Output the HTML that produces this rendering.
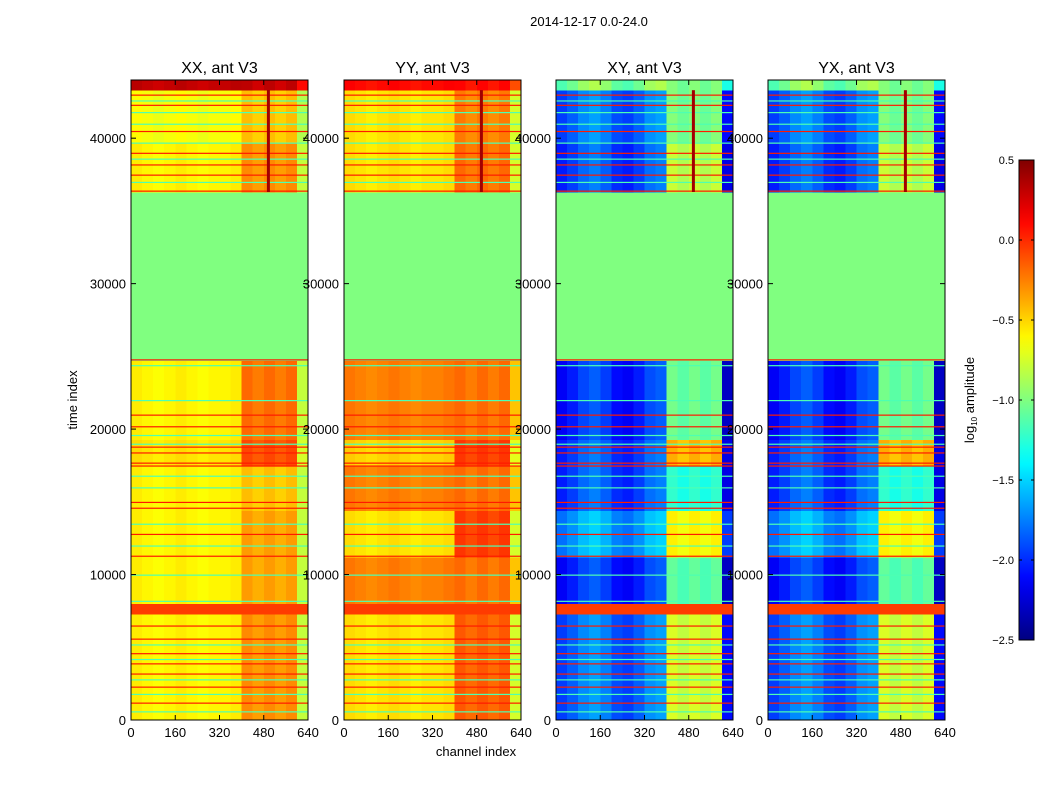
<!DOCTYPE html>
<html><head><meta charset="utf-8">
<style>
html,body{margin:0;padding:0;background:#fff;}
svg text{font-family:"Liberation Sans","DejaVu Sans",sans-serif;}
</style></head>
<body>
<svg id="fig" width="1050" height="800" viewBox="0 0 1050 800" xmlns="http://www.w3.org/2000/svg">
<rect width="1050" height="800" fill="#fff"/>
<text x="589" y="26" font-size="13" text-anchor="middle">2014-12-17 0.0-24.0</text>
<text x="476" y="756" font-size="13" text-anchor="middle">channel index</text>
<text x="0" y="0" font-size="13" text-anchor="middle" transform="translate(77,400) rotate(-90)">time index</text>
<g id="panels"></g>
<g id="cbar"></g>
</svg>
<script>
// ---- data ----
const panelTitles = ["XX, ant V3","YY, ant V3","XY, ant V3","YX, ant V3"];
const bandStart = [0,7300,8000,11200,14400,17500,19300,24700,36300,39700,43300];
const bandEnd   = [7300,8000,11200,14400,17500,19300,24700,36300,39700,43300,44000];
const baseXX = [-0.6,-0.05,-0.6,-0.6,-0.6,-0.55,-0.6,-1.0,-0.6,-0.65,0.3];
const featXX = [-0.3,-0.05,-0.35,-0.35,-0.45,-0.1,-0.2,-1.0,-0.3,-0.45,0.3];
const baseYY = [-0.55,-0.05,-0.25,-0.55,-0.25,-0.5,-0.25,-1.0,-0.55,-0.55,0.1];
const featYY = [-0.15,-0.05,-0.2,-0.05,-0.2,-0.05,-0.2,-1.0,-0.2,-0.25,0.1];
const baseXY = [-1.8,-0.05,-2.0,-1.65,-1.9,-1.9,-2.0,-1.0,-1.9,-1.8,-1.0];
const featXY = [-0.75,-0.05,-1.1,-0.6,-1.25,-0.4,-1.05,-1.0,-0.8,-1.0,-1.0];
const baseYX = [-1.8,-0.05,-2.0,-1.65,-1.9,-1.9,-2.0,-1.0,-1.9,-1.8,-1.0];
const featYX = [-0.75,-0.05,-1.1,-0.6,-1.25,-0.4,-1.05,-1.0,-0.8,-1.0,-1.0];
const colOffPar   = [0.03,0,-0.03,0,0.03,0,-0.03,0,0,0.03,0.02,-0.04,0.02,-0.04,0.02,-0.2];
const colOffCross = [-0.15,-0.05,0.08,0.15,0.05,-0.1,-0.15,-0.05,0.1,0.15,0.02,-0.06,0.02,-0.06,0.02,-0.3];
const redLines = [1200,2300,3200,3900,4600,5600,6500,11300,12800,14600,15000,17500,17700,18400,18800,20200,21000,24800,36400,37500,38200,39000,40500,42300,43000];
const greenLines = [600,1800,2800,4200,5200,8200,10000,12000,13500,16000,16800,19000,19600,22000,24400,37000,38600,39700,41000,41800,42600];
const spikeChannel = 495;
const xTicks = [0,160,320,480,640];
const yTicks = [0,10000,20000,30000,40000];
const cbarTicks = [0.5,0.0,-0.5,-1.0,-1.5,-2.0,-2.5];
// ---- geometry ----
const lefts=[131,344,556,768], PW=177, PT=80, PH=640, YMAX=44000, XMAX=640, NSEG=16;
const VMIN=-2.5, VMAX=0.5;
function jet(v){let t=(v-VMIN)/(VMAX-VMIN);t=Math.max(0,Math.min(1,t));
 const c=x=>Math.round(255*Math.max(0,Math.min(1,1.5-Math.abs(x))));
 return `rgb(${c(4*t-3)},${c(4*t-2)},${c(4*t-1)})`;}
const NS="http://www.w3.org/2000/svg";
function mk(tag,attrs,parent){const e=document.createElementNS(NS,tag);for(const k in attrs)e.setAttribute(k,attrs[k]);parent.appendChild(e);return e;}
const bases=[baseXX,baseYY,baseXY,baseYX], feats=[featXX,featYY,featXY,featYX];
const panelsG=document.getElementById('panels');
for(let p=0;p<4;p++){
 const L=lefts[p];
 const xs=c=>L+c/XMAX*PW, ys=t=>PT+PH-t/YMAX*PH;
 const g=mk('g',{},panelsG);
 
 
 const co = p<2?colOffPar:colOffCross;
 const segW=XMAX/NSEG;
 for(let b=0;b<bandStart.length;b++){
  for(let s=0;s<NSEG;s++){
   const inFeat = s>=10 && s<=14;
   let v = (inFeat?feats[p][b]:bases[p][b]) + co[s];
   if(bandStart[b]===24700||bandEnd[b]===8000) v=bases[p][b];
   const r=mk('rect',{x:xs(s*segW),y:ys(bandEnd[b]),width:xs((s+1)*segW)-xs(s*segW)+0.5,height:ys(bandStart[b])-ys(bandEnd[b])+0.5,fill:jet(v),'shape-rendering':'crispEdges'},g);
   
   
  }
 }
 redLines.forEach(t=>{const r=mk('rect',{x:L,y:ys(t),width:PW,height:1.2,fill:jet(0.05)},g);
  
  });
 greenLines.forEach(t=>{const r=mk('rect',{x:L,y:ys(t),width:PW,height:1.2,fill:jet(-1.15)},g);
  
  });
 const sp=mk('rect',{x:xs(spikeChannel)-1,y:ys(43300),width:3,height:ys(36300)-ys(43300),fill:jet(0.4)},g);
 
 
 const fr=mk('rect',{x:L,y:PT,width:PW,height:PH,fill:'none',stroke:'#000','stroke-width':1},g);
 
 
 const ti=mk('text',{x:L+PW/2,y:PT-7,'font-size':16,'text-anchor':'middle'},g);ti.textContent=panelTitles[p];
 
 
 xTicks.forEach(v=>{const x=xs(v);
  mk('line',{x1:x,x2:x,y1:PT+PH,y2:PT+PH-5,stroke:'#000'},g);mk('line',{x1:x,x2:x,y1:PT,y2:PT+5,stroke:'#000'},g);
  const t=mk('text',{x:x,y:PT+PH+17,'font-size':13,'text-anchor':'middle'},g);t.textContent=v;
  
  });
 yTicks.forEach(v=>{const y=ys(v);
  mk('line',{x1:L,x2:L+5,y1:y,y2:y,stroke:'#000'},g);mk('line',{x1:L+PW,x2:L+PW-5,y1:y,y2:y,stroke:'#000'},g);
  const t=mk('text',{x:L-5,y:y+5,'font-size':13,'text-anchor':'end'},g);t.textContent=v;
  
  });
}
// colorbar
const cb=document.getElementById('cbar');
const CX=1019,CW=15,CT=160,CH=480;
const defs=mk('defs',{},cb);const lg=mk('linearGradient',{id:'jetg',x1:0,y1:1,x2:0,y2:0},defs);
for(let i=0;i<=30;i++){mk('stop',{offset:i/30,'stop-color':jet(VMIN+(VMAX-VMIN)*i/30)},lg);}
mk('rect',{x:CX,y:CT,width:CW,height:CH,fill:'url(#jetg)',stroke:'#000','stroke-width':1},cb);
cbarTicks.forEach(v=>{const y=CT+(VMAX-v)/(VMAX-VMIN)*CH;
 mk('line',{x1:CX,x2:CX+3,y1:y,y2:y,stroke:'#000'},cb);
 mk('line',{x1:CX+CW-3,x2:CX+CW,y1:y,y2:y,stroke:'#000'},cb);
 const t=mk('text',{x:CX-5,y:y+4,'font-size':11,'text-anchor':'end'},cb);t.textContent=(v<0?'\u2212':'')+Math.abs(v).toFixed(1);
 
 });
const cl=mk('text',{x:0,y:0,'font-size':13,'text-anchor':'middle',transform:'translate(974,400) rotate(-90)'},cb);
cl.innerHTML='log<tspan font-size="8" dy="3">10</tspan><tspan dy="-3"> amplitude</tspan>';


</script>
</body></html>
